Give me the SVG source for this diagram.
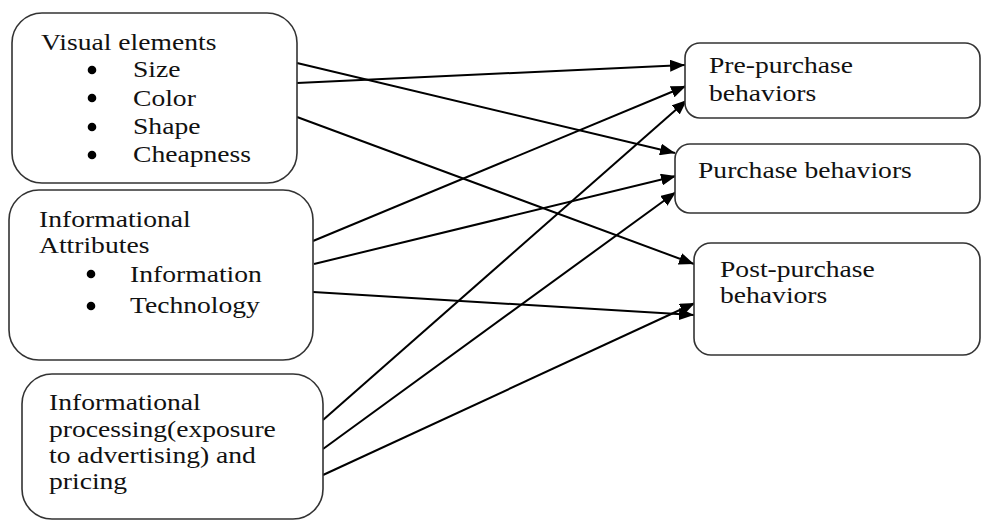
<svg xmlns="http://www.w3.org/2000/svg" width="982" height="521" viewBox="0 0 982 521">
<style>
.box{fill:#fff;stroke:#333;stroke-width:1.6}
.t{font-family:"Liberation Serif","Times New Roman",serif;font-size:24px;fill:#111}
.b{fill:#000}
.c{stroke:#000;stroke-width:2;fill:none;marker-end:url(#ah)}
</style>
<defs>
<marker id="ah" markerUnits="userSpaceOnUse" markerWidth="16" markerHeight="12" refX="15" refY="6" orient="auto">
<path d="M0,0 L15,6 L0,12 Z" fill="#000"/>
</marker>
</defs>
<rect width="982" height="521" fill="#fff"/>
<g id="connectors">
<line class="c" x1="297" y1="63" x2="675" y2="153"/>
<line class="c" x1="297" y1="83" x2="685" y2="65"/>
<line class="c" x1="297" y1="117" x2="694" y2="264"/>
<line class="c" x1="313" y1="241" x2="686" y2="86"/>
<line class="c" x1="314" y1="264" x2="676" y2="176"/>
<line class="c" x1="313" y1="292" x2="694" y2="315"/>
<line class="c" x1="323" y1="420" x2="687" y2="100"/>
<line class="c" x1="323" y1="449" x2="676" y2="192"/>
<line class="c" x1="323" y1="475" x2="695" y2="303"/>
</g>
<g id="visual">
<rect class="box" x="12" y="13" width="285" height="170" rx="30"/>
<text class="t" transform="translate(41,50) scale(1.15,1)">Visual elements</text>
<circle class="b" cx="92" cy="70" r="4.3"/>
<text class="t" transform="translate(133,77) scale(1.15,1)">Size</text>
<circle class="b" cx="92" cy="98" r="4.3"/>
<text class="t" transform="translate(133,106) scale(1.15,1)">Color</text>
<circle class="b" cx="92" cy="127" r="4.3"/>
<text class="t" transform="translate(133,134) scale(1.15,1)">Shape</text>
<circle class="b" cx="92" cy="155" r="4.3"/>
<text class="t" transform="translate(133,162) scale(1.15,1)">Cheapness</text>
</g>
<g id="informational">
<rect class="box" x="9" y="190" width="304" height="170" rx="30"/>
<text class="t" transform="translate(39,227) scale(1.15,1)">Informational</text>
<text class="t" transform="translate(39,253) scale(1.15,1)">Attributes</text>
<circle class="b" cx="91" cy="274" r="4.3"/>
<text class="t" transform="translate(130,282) scale(1.15,1)">Information</text>
<circle class="b" cx="91" cy="306" r="4.3"/>
<text class="t" transform="translate(130,313) scale(1.15,1)">Technology</text>
</g>
<g id="processing">
<rect class="box" x="22" y="374" width="301" height="145" rx="30"/>
<text class="t" transform="translate(49,410) scale(1.15,1)">Informational</text>
<text class="t" transform="translate(49,437) scale(1.15,1)">processing(exposure</text>
<text class="t" transform="translate(49,463) scale(1.15,1)">to advertising) and</text>
<text class="t" transform="translate(49,489) scale(1.15,1)">pricing</text>
</g>
<g id="pre">
<rect class="box" x="685" y="43" width="295" height="75" rx="15"/>
<text class="t" transform="translate(709,73) scale(1.15,1)">Pre-purchase</text>
<text class="t" transform="translate(709,101) scale(1.15,1)">behaviors</text>
</g>
<g id="purchase">
<rect class="box" x="675" y="144" width="305" height="69" rx="15"/>
<text class="t" transform="translate(698,178) scale(1.15,1)">Purchase behaviors</text>
</g>
<g id="post">
<rect class="box" x="694" y="243" width="286" height="112" rx="17"/>
<text class="t" transform="translate(720,277) scale(1.15,1)">Post-purchase</text>
<text class="t" transform="translate(720,303) scale(1.15,1)">behaviors</text>
</g>
</svg>
